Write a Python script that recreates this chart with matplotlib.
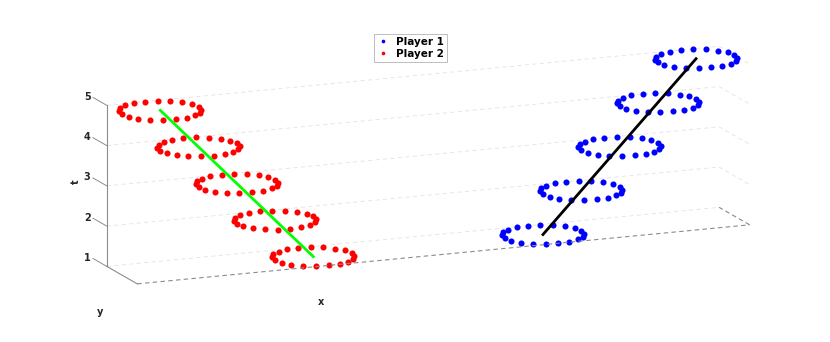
import numpy as np
import matplotlib
matplotlib.use("Agg")
import matplotlib.pyplot as plt
from matplotlib.ticker import NullFormatter

# ---- data ----
t_levels = [1, 2, 3, 4, 5]
p1_x = [10, 11, 12, 13, 14]      # Player 1 circle centres (x) at each t
p2_x = [4, 3, 2, 1, 0]           # Player 2 circle centres (x) at each t
center_y = [0, 0, 0, 0, 0]
radius = 1.0
n_points = 20
z_ticks = [1, 2, 3, 4, 5]
z_ticklabels = ["1", "2", "3", "4", "5"]
x_lim = (-1, 15)
y_lim = (-1, 1)
z_lim = (1, 5)

plt.rcParams['font.family'] = ['DejaVu Sans']
plt.rcParams['grid.color'] = '#e3e3e3'
plt.rcParams['grid.linestyle'] = (0, (5, 4))
plt.rcParams['grid.linewidth'] = 0.6

AX_GRAY = '#8c8c8c'
TXT = '#262626'

fig = plt.figure(figsize=(8.3, 3.42), dpi=100)
S = 1.95
ax = fig.add_axes([0.505 - S / 2, 0.491 - S / 2, S, S], projection='3d', proj_type='ortho',
                  computed_zorder=False)
ax.view_init(elev=13.6, azim=-112.3)
ax.set_box_aspect((661.5, 80.4, 165.6))

theta = np.linspace(0, 2 * np.pi, n_points, endpoint=False)

for i, t in enumerate(t_levels):
    ax.plot(p1_x[i] + radius * np.cos(theta), center_y[i] + radius * np.sin(theta),
            np.full(n_points, t), linestyle='none', marker='o', ms=4.4,
            mfc='#0000ff', mec='none', label='Player 1' if i == 0 else None)
for i, t in enumerate(t_levels):
    ax.plot(p2_x[i] + radius * np.cos(theta), center_y[i] + radius * np.sin(theta),
            np.full(n_points, t), linestyle='none', marker='o', ms=4.4,
            mfc='#ff0000', mec='none', label='Player 2' if i == 0 else None)

ax.plot(p2_x, center_y, t_levels, color='#00ff00', lw=2.0)
ax.plot(p1_x, center_y, t_levels, color='#000000', lw=2.0)

ax.set_xlim(*x_lim)
ax.set_ylim(*y_lim)
ax.set_zlim(*z_lim)
ax.set_xticks([])
ax.set_yticks([])
ax.set_zticks(z_ticks)
# mpl's own z tick marks/labels are suppressed; MATLAB-style slanted ticks are drawn below
ax.zaxis.set_major_formatter(NullFormatter())
ax.tick_params(axis='z', length=0, labelleft=False)
ax.zaxis._axinfo['tick'].update(inward_factor=0.0, outward_factor=0.0)

for axis in (ax.xaxis, ax.yaxis, ax.zaxis):
    axis.set_pane_color((1, 1, 1, 0))
    axis.pane.set_edgecolor('none')
    axis.line.set_color('none')
    axis._axinfo['grid'].update(color='#e3e3e3', linestyle=(0, (5, 4)), linewidth=0.6)

# box edges
ax.plot([x_lim[0], x_lim[0]], [y_lim[1], y_lim[1]], z_lim, color=AX_GRAY, lw=0.8)
ax.plot([x_lim[0], x_lim[0]], [y_lim[1], y_lim[0]], [z_lim[0]] * 2, color=AX_GRAY, lw=0.8)
ax.plot(x_lim, [y_lim[0]] * 2, [z_lim[0]] * 2, color=AX_GRAY, lw=0.8, ls=(0, (4, 3)))
ax.plot([x_lim[1]] * 2, y_lim, [z_lim[0]] * 2, color=AX_GRAY, lw=0.8, ls=(0, (4, 3)))

# t-axis ticks (pointing back along y) and their labels
y_span = y_lim[1] - y_lim[0]
for tk, lab in zip(z_ticks, z_ticklabels):
    ax.plot([x_lim[0]] * 2, [y_lim[1], y_lim[1] + 0.45 * y_span], [tk, tk],
            color=AX_GRAY, lw=0.7)
    ax.text(x_lim[0], y_lim[1] + 0.53 * y_span, tk - 0.02, lab, fontsize=7,
            fontweight='bold', color=TXT, ha='right', va='center')

fig.text(0.387, 0.118, 'x', fontsize=7, fontweight='bold', color=TXT, ha='center', va='center')
fig.text(0.121, 0.088, 'y', fontsize=7, fontweight='bold', color=TXT, ha='center', va='center')
fig.text(0.092, 0.468, 't', fontsize=7, fontweight='bold', color=TXT, ha='center', va='center', rotation=90)

handles, labels = ax.get_legend_handles_labels()
leg = fig.legend(handles, labels, loc='upper center', bbox_to_anchor=(0.4946, 0.917),
                 prop={'weight': 'bold', 'size': 7.5}, frameon=True, fancybox=False,
                 edgecolor='#a0a0a0', handlelength=1.2, handletextpad=0.6,
                 borderpad=0.3, labelspacing=0.2, markerscale=0.6)
leg.get_frame().set_linewidth(0.6)

fig.savefig('out.png', dpi=100)
